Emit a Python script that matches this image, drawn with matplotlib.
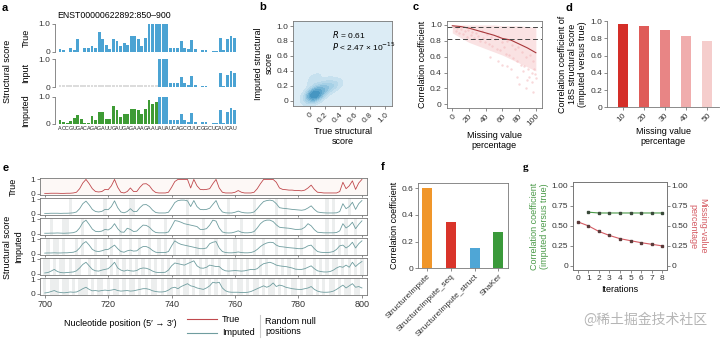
import numpy as np
import matplotlib
matplotlib.use('Agg')
import matplotlib.pyplot as plt
from matplotlib.colors import LinearSegmentedColormap
import seaborn as sns

plt.rcParams['font.family'] = ['Liberation Sans', 'DejaVu Sans', 'Noto Sans CJK SC']
plt.rcParams['font.size'] = 6
plt.rcParams['axes.linewidth'] = 0.6
plt.rcParams['axes.edgecolor'] = '#777777'
plt.rcParams['xtick.major.width'] = 0.6
plt.rcParams['ytick.major.width'] = 0.6
plt.rcParams['xtick.major.size'] = 2.5
plt.rcParams['ytick.major.size'] = 2.5
plt.rcParams['xtick.color'] = '#777777'
plt.rcParams['ytick.color'] = '#777777'
plt.rcParams['xtick.labelcolor'] = '#333333'
plt.rcParams['ytick.labelcolor'] = '#333333'
plt.rcParams['xtick.labelsize'] = 6
plt.rcParams['ytick.labelsize'] = 6

# ---------------- data ----------------
# panel a
seq_a = "ACCGUGACAGAGAUUGAUGAGAAAGAAUAUAUCAGCCUUCGGCUCAUCAU"
true_a = [0.10, 0.05, 0.00, 0.12, 0.05, 0.45, 0.00, 0.15, 0.15, 0.22,
          0.15, 0.72, 0.45, 0.25, 0.10, 0.45, 0.40, 0.20, 0.32, 0.25,
          0.58, 0.55, 0.45, 0.20, 0.50, 1.00, 1.00, 1.00, 1.00, 1.00,
          1.00, 0.15, 0.15, 0.15, 0.38, 0.15, 0.08, 0.42, 0.08, 0.00,
          0.06, 0.06, 0.00, 0.02, 0.02, 0.50, 0.05, 0.45, 0.58, 0.50]
input_a = [np.nan] * 28 + [1.00, 1.00, 1.00, 0.15, 0.15, 0.15, 0.38, 0.15, 0.08, 0.42,
                           0.08, 0.00, 0.06, 0.06, 0.00, 0.02, 0.02, 0.50, 0.05, 0.45,
                           0.58, 0.50]
imputed_a = [0.15, 0.08, 0.05, 0.12, 0.22, 0.32, 0.18, 0.05, 0.05, 0.28,
             0.15, 0.45, 0.45, 0.20, 0.18, 0.65, 0.50, 0.25, 0.35, 0.38,
             0.55, 0.55, 0.50, 0.35, 0.55, 0.88, 0.72, 0.82, 1.00, 1.00,
             1.00, 0.15, 0.15, 0.15, 0.38, 0.15, 0.08, 0.42, 0.08, 0.00,
             0.06, 0.06, 0.00, 0.02, 0.02, 0.50, 0.05, 0.45, 0.58, 0.50]

# panel b (samples read from the density blob)
b_true = [0.02, 0.05, 0.08, 0.03, 0.10, 0.00, 0.06, 0.12, 0.04, 0.15,
          0.20, 0.25, 0.30, 0.07, 0.02, 0.09, 0.18, 0.22, 0.35, 0.01,
          0.05, 0.11, 0.14, 0.04, 0.28, 0.06, 0.03, 0.08, 0.16, 0.12]
b_imp = [0.05, 0.08, 0.03, 0.12, 0.06, 0.10, 0.02, 0.15, 0.09, 0.10,
         0.18, 0.15, 0.20, 0.22, 0.04, 0.06, 0.12, 0.25, 0.20, 0.07,
         0.14, 0.05, 0.18, 0.10, 0.22, 0.30, 0.08, 0.03, 0.12, 0.16]

# panel c
c_band_x = [0, 10, 20, 30, 40, 50, 60, 70, 80, 90, 100]
c_band_hi = [1.00, 1.00, 1.00, 1.00, 1.00, 1.00, 0.99, 0.99, 0.99, 0.98, 0.97]
c_band_lo = [0.90, 0.84, 0.78, 0.74, 0.70, 0.66, 0.62, 0.57, 0.52, 0.47, 0.42]
c_trend = [0.99, 0.98, 0.96, 0.93, 0.90, 0.87, 0.83, 0.81, 0.76, 0.71, 0.65]
c_pts_x = [2, 4, 6, 8, 11, 13, 15, 17, 19, 22, 24, 26, 28, 31, 33, 35, 37, 39, 42, 44,
           46, 48, 51, 53, 55, 57, 59, 62, 64, 66, 68, 71, 73, 75, 77, 79, 82, 84, 86, 88,
           91, 93, 95, 97, 99, 45, 60, 70, 78, 85, 90, 95, 100, 55, 88, 96, 80, 92, 65, 98]
c_pts_y = [0.97, 0.93, 0.96, 0.90, 0.95, 0.88, 0.92, 0.85, 0.94, 0.87, 0.91, 0.83, 0.90, 0.86, 0.80, 0.92, 0.84, 0.78, 0.88, 0.76,
           0.85, 0.73, 0.82, 0.70, 0.86, 0.68, 0.78, 0.72, 0.64, 0.80, 0.62, 0.75, 0.58, 0.70, 0.55, 0.72, 0.50, 0.66, 0.48, 0.60,
           0.45, 0.62, 0.40, 0.55, 0.38, 0.60, 0.50, 0.45, 0.35, 0.42, 0.30, 0.28, 0.33, 0.55, 0.20, 0.15, 0.25, 0.35, 0.48, 0.45]
c_hlines = [0.97, 0.82]

# panel d
d_cats = ['10', '20', '30', '40', '50']
d_vals = [0.96, 0.94, 0.90, 0.83, 0.77]
d_colors = ['#d42e28', '#df5b58', '#e88585', '#f0adad', '#f5cdcc']

# panel e
e_pos = list(range(700, 801))
e_true = [0.02, 0.02, 0.03, 0.03, 0.03, 0.02, 0.02, 0.03, 0.03, 0.05, 0.10,
          0.35, 0.75, 1.00, 0.70, 0.35, 0.15, 0.12, 0.15, 0.30, 0.28,
          0.55, 1.00, 0.45, 0.10, 0.05, 0.15, 0.40, 0.15, 0.15, 0.45,
          0.68, 0.70, 0.55, 0.25, 0.08, 0.05, 0.05, 0.05, 0.10, 0.45,
          0.85, 1.00, 1.00, 1.00, 1.00, 0.40, 1.00, 0.55, 0.30, 0.28,
          0.30, 0.35, 0.70, 1.00, 0.40, 0.10, 0.05, 0.05, 0.05, 0.10,
          0.22, 0.10, 0.05, 0.05, 0.05, 0.10, 0.35, 0.70, 1.00, 1.00,
          1.00, 1.00, 0.80, 0.40, 0.30, 0.28, 0.25, 0.25, 0.22, 0.22,
          0.20, 0.25, 0.40, 0.60, 0.30, 0.10, 0.08, 0.05, 0.05, 0.05,
          0.05, 0.05, 0.15, 0.80, 0.35, 0.55, 0.90, 0.30, 0.75, 1.00]
e_imp1 = [0.02, 0.02, 0.03, 0.03, 0.03, 0.02, 0.03, 0.03, 0.04, 0.06, 0.12,
          0.35, 0.70, 0.88, 0.62, 0.30, 0.15, 0.12, 0.16, 0.30, 0.28,
          0.50, 0.90, 0.42, 0.12, 0.06, 0.15, 0.35, 0.15, 0.15, 0.42,
          0.62, 0.64, 0.50, 0.25, 0.08, 0.05, 0.05, 0.05, 0.10, 0.42,
          0.78, 0.92, 0.95, 0.95, 0.90, 0.50, 0.92, 0.50, 0.30, 0.28,
          0.30, 0.38, 0.65, 0.92, 0.40, 0.12, 0.06, 0.05, 0.05, 0.10,
          0.18, 0.10, 0.06, 0.05, 0.06, 0.12, 0.35, 0.62, 0.85, 0.92,
          0.95, 0.90, 0.70, 0.42, 0.38, 0.36, 0.33, 0.30, 0.28, 0.26,
          0.24, 0.28, 0.40, 0.55, 0.30, 0.12, 0.08, 0.06, 0.05, 0.05,
          0.05, 0.06, 0.15, 0.70, 0.35, 0.50, 0.80, 0.30, 0.70, 0.92]
e_imp2 = [0.03, 0.03, 0.04, 0.04, 0.05, 0.04, 0.03, 0.04, 0.05, 0.07, 0.15,
          0.40, 0.78, 0.95, 0.65, 0.32, 0.16, 0.14, 0.18, 0.30, 0.26,
          0.40, 0.70, 0.35, 0.12, 0.10, 0.38, 0.30, 0.15, 0.18, 0.40,
          0.60, 0.58, 0.45, 0.22, 0.08, 0.06, 0.06, 0.06, 0.12, 0.50,
          0.92, 0.88, 0.80, 0.70, 0.65, 0.60, 0.55, 0.50, 0.30, 0.30,
          0.35, 0.60, 0.95, 0.88, 0.40, 0.12, 0.06, 0.05, 0.06, 0.12,
          0.20, 0.10, 0.06, 0.06, 0.08, 0.15, 0.40, 0.70, 0.88, 0.95,
          0.95, 0.85, 0.62, 0.45, 0.42, 0.40, 0.38, 0.34, 0.30, 0.30,
          0.32, 0.45, 0.70, 0.55, 0.28, 0.10, 0.08, 0.06, 0.06, 0.06,
          0.06, 0.08, 0.20, 0.70, 0.40, 0.55, 0.80, 0.35, 0.65, 0.90]
e_imp3 = [0.04, 0.05, 0.05, 0.06, 0.05, 0.05, 0.06, 0.06, 0.08, 0.10, 0.18,
          0.40, 0.70, 0.85, 0.60, 0.30, 0.18, 0.15, 0.20, 0.28, 0.30,
          0.45, 0.60, 0.35, 0.15, 0.10, 0.20, 0.25, 0.18, 0.20, 0.38,
          0.50, 0.50, 0.40, 0.22, 0.10, 0.08, 0.08, 0.08, 0.15, 0.55,
          0.90, 0.75, 0.65, 0.60, 0.55, 0.50, 0.45, 0.40, 0.35, 0.35,
          0.40, 0.70, 0.80, 0.85, 0.40, 0.15, 0.08, 0.06, 0.06, 0.08,
          0.12, 0.08, 0.06, 0.06, 0.08, 0.15, 0.30, 0.50, 0.65, 0.75,
          0.80, 0.78, 0.60, 0.50, 0.48, 0.45, 0.42, 0.40, 0.38, 0.35,
          0.35, 0.42, 0.55, 0.60, 0.35, 0.15, 0.10, 0.08, 0.08, 0.10,
          0.15, 0.30, 0.55, 0.60, 0.40, 0.55, 0.80, 0.40, 0.70, 0.90]
e_imp4 = [0.05, 0.08, 0.18, 0.30, 0.15, 0.08, 0.06, 0.08, 0.10, 0.12, 0.20,
          0.40, 0.65, 0.80, 0.55, 0.30, 0.20, 0.18, 0.25, 0.30, 0.35,
          0.55, 0.80, 0.40, 0.25, 0.18, 0.25, 0.20, 0.18, 0.22, 0.35,
          0.40, 0.38, 0.30, 0.18, 0.10, 0.08, 0.08, 0.10, 0.25, 0.55,
          0.75, 0.70, 0.65, 0.60, 0.70, 0.80, 0.90, 0.55, 0.40, 0.38,
          0.45, 0.60, 0.55, 0.50, 0.50, 0.30, 0.20, 0.18, 0.20, 0.22,
          0.20, 0.18, 0.20, 0.25, 0.30, 0.28, 0.35, 0.55, 0.70, 0.75,
          0.80, 0.72, 0.60, 0.55, 0.52, 0.50, 0.45, 0.40, 0.32, 0.30,
          0.30, 0.35, 0.45, 0.55, 0.35, 0.20, 0.15, 0.12, 0.12, 0.15,
          0.25, 0.40, 0.50, 0.45, 0.60, 0.45, 0.80, 0.50, 0.70, 0.85]
e_imp5 = [0.05, 0.08, 0.15, 0.22, 0.12, 0.08, 0.06, 0.08, 0.12, 0.10, 0.12,
          0.22, 0.35, 0.45, 0.30, 0.20, 0.22, 0.18, 0.22, 0.25, 0.22,
          0.25, 0.30, 0.22, 0.18, 0.20, 0.22, 0.18, 0.20, 0.25, 0.30,
          0.35, 0.35, 0.30, 0.20, 0.15, 0.12, 0.12, 0.15, 0.25, 0.40,
          0.45, 0.35, 0.50, 0.60, 0.70, 0.55, 0.50, 0.40, 0.35, 0.30,
          0.40, 0.55, 0.80, 0.75, 0.80, 0.40, 0.20, 0.12, 0.10, 0.10,
          0.10, 0.08, 0.08, 0.10, 0.15, 0.25, 0.35, 0.45, 0.55, 0.45,
          0.55, 0.75, 0.50, 0.60, 0.55, 0.45, 0.40, 0.35, 0.32, 0.30,
          0.30, 0.35, 0.40, 0.50, 0.30, 0.18, 0.12, 0.10, 0.10, 0.12,
          0.18, 0.30, 0.45, 0.60, 0.40, 0.55, 0.70, 0.45, 0.50, 0.40]
e_null1 = [708, 719, 727, 728, 745, 758, 766, 773, 776, 789, 791, 796]
e_null2 = [702, 706, 707, 712, 719, 724, 727, 733, 738, 745, 750, 757, 762, 766, 773,
           776, 781, 789, 791, 795, 798]
e_null3 = [701, 703, 704, 706, 710, 712, 716, 719, 721, 724, 727, 730, 733, 736, 738,
           741, 745, 748, 750, 754, 757, 760, 762, 766, 769, 773, 776, 779, 781, 785,
           789, 791, 793, 795, 798]
e_null4 = [700, 701, 703, 705, 706, 708, 710, 711, 714, 716, 718, 719, 721, 723, 725,
           727, 729, 731, 733, 735, 737, 739, 742, 744, 746, 749, 751, 753, 755, 758,
           760, 762, 764, 766, 768, 770, 773, 775, 777, 779, 782, 785, 787, 789, 791,
           792, 794, 796, 798, 800]
e_null5 = [700, 702, 703, 704, 706, 707, 709, 711, 712, 713, 715, 717, 718, 720, 722,
           723, 725, 727, 728, 730, 732, 734, 735, 737, 739, 740, 742, 744, 745, 747,
           749, 750, 752, 754, 756, 757, 759, 761, 762, 764, 766, 767, 769, 771, 772,
           774, 776, 778, 779, 781, 783, 784, 786, 788, 790, 791, 793, 795, 796, 798, 799]

# panel f
f_methods = ['StructureImpute', 'StructureImpute_seq', 'StructureImpute_struct', 'ShaKer']
f_vals = [0.60, 0.35, 0.15, 0.27]
f_colors = ['#f0962a', '#d9342a', '#4fa6d6', '#3b9a3b']

# panel g
g_iter_corr = [1, 2, 3, 4, 5, 6, 7, 8]
g_corr = [0.67, 0.66, 0.66, 0.66, 0.66, 0.66, 0.66, 0.66]
g_iter_miss = [0, 1, 2, 3, 4, 5, 6, 7, 8]
g_miss = [0.55, 0.50, 0.43, 0.38, 0.34, 0.315, 0.29, 0.27, 0.25]

# ---------------- figure ----------------
W, H = 720, 340
fig = plt.figure(figsize=(7.2, 3.4), dpi=100)


def ax_at(x0, y0, x1, y1, **kw):
    return fig.add_axes([x0 / W, 1 - y1 / H, (x1 - x0) / W, (y1 - y0) / H], **kw)


def ftext(x, y, s, **kw):
    return fig.text(x / W, 1 - y / H, s, **kw)


def plabel(x, y, s, serif=False):
    kw = dict(fontsize=8, fontweight='bold', va='center', ha='left')
    if serif:
        kw['family'] = ['Liberation Serif', 'DejaVu Serif']
    ftext(x, y, s, **kw)


BLUE = '#4ba3d3'
GREEN = '#3e9b35'

# ---- panel a ----
plabel(2, 8, 'a')
ftext(57, 15, 'ENST00000622892:850\u2013900', fontsize=6.3, va='center', ha='left')
rows_a = [(24, 51.7, 'True'), (59.3, 87.3, 'Input'), (96.7, 124, 'Imputed')]
xs_a = np.arange(len(true_a))
for k, (y0, y1, name) in enumerate(rows_a):
    ax = ax_at(55, y0, 237, y1)
    for s in ['top', 'right', 'bottom']:
        ax.spines[s].set_visible(False)
    if k == 0:
        ax.bar(xs_a, true_a, width=0.8, color=BLUE, lw=0)
    elif k == 1:
        vals = np.array(input_a, dtype=float)
        miss = np.isnan(vals)
        ax.bar(xs_a[~miss], vals[~miss], width=0.8, color=BLUE, lw=0)
        ax.bar(xs_a[miss], [0.07] * int(miss.sum()), width=0.8, color='#dcdcdc', lw=0)
    else:
        vals = np.array(imputed_a)
        miss = np.isnan(np.array(input_a, dtype=float))
        ax.bar(xs_a[miss], vals[miss], width=0.8, color=GREEN, lw=0)
        ax.bar(xs_a[~miss], vals[~miss], width=0.8, color=BLUE, lw=0)
        for i, ch in enumerate(seq_a):
            ax.text(i, -0.06, ch, fontsize=3.9, ha='center', va='top', clip_on=False,
                    color='#222222')
    ax.set_xlim(-1.4, 49.7)
    ax.set_ylim(0, 1.0)
    ax.set_xticks([])
    ax.set_yticks([0, 1.0])
    ax.set_yticklabels(['0', '1.0'])
    ax.tick_params(axis='y', length=2, pad=1.5)
    ftext(26, (y0 + y1) / 2, name, rotation=90, ha='center', va='center', fontsize=6.5)
ftext(8, 71, 'Structural score', rotation=90, ha='center', va='center', fontsize=6.5)

# ---- panel b ----
plabel(259, 7, 'b')
axb = ax_at(293.3, 20.7, 392.3, 106)
axb.set_facecolor('#dcecf5')
cmap_b = LinearSegmentedColormap.from_list('bb', ['#cfe5f1', '#a6d0e6', '#6db0d3', '#3b8fbd'])
sns.kdeplot(x=b_true, y=b_imp, fill=True, cmap=cmap_b, levels=8, thresh=0.04,
            bw_adjust=1.25, ax=axb)
axb.set_xlim(-0.22, 1.10)
axb.set_ylim(-0.071, 1.071)
axb.set_xticks([0, 0.2, 0.4, 0.6, 0.8, 1.0])
axb.set_xticklabels(['0', '0.2', '0.4', '0.6', '0.8', '1.0'], rotation=45, ha='right',
                    rotation_mode='anchor')
axb.set_yticks([0, 0.2, 0.4, 0.6, 0.8, 1.0])
axb.set_yticklabels(['0', '0.2', '0.4', '0.6', '0.8', '1.0'])
axb.tick_params(length=2, pad=1.5)
axb.set_xlabel('True structural\nscore', fontsize=6.5, labelpad=2)
axb.set_ylabel('Imputed structural\nscore', fontsize=6.5, labelpad=2)
axb.text(0.29, 0.88, '$R$ = 0.61', fontsize=6, va='center')
axb.text(0.29, 0.72, '$P$ < 2.47 \u00d7 10$^{-15}$', fontsize=6, va='center')

# ---- panel c ----
plabel(413, 7, 'c')
axc = ax_at(446.7, 21, 541.7, 108)
axc.fill_between(c_band_x, c_band_lo, c_band_hi, color='#f7cfd1', alpha=0.6, lw=0)
axc.scatter(c_pts_x, c_pts_y, s=3, color='#f4b9bc', alpha=0.55, lw=0)
axc.plot(c_band_x, c_trend, color='#a8373a', lw=0.8)
for hv in c_hlines:
    axc.axhline(hv, color='#444444', lw=0.7, ls=(0, (5, 3)))
axc.set_xlim(-6.7, 107)
axc.set_ylim(-0.047, 1.05)
axc.set_xticks([0, 20, 40, 60, 80, 100])
axc.set_xticklabels(['0', '20', '40', '60', '80', '100'], rotation=45, ha='right',
                    rotation_mode='anchor')
axc.set_yticks([0, 0.2, 0.4, 0.6, 0.8, 1.0])
axc.set_yticklabels(['0', '0.2', '0.4', '0.6', '0.8', '1.0'])
axc.tick_params(length=2, pad=1.5)
axc.set_xlabel('Missing value\npercentage', fontsize=6.5, labelpad=2)
axc.set_ylabel('Correlation coefficient', fontsize=6.5, labelpad=2)

# ---- panel d ----
plabel(566, 8, 'd')
axd = ax_at(607, 21, 719, 107.3)
axd.bar(range(len(d_vals)), d_vals, width=0.48, color=d_colors, lw=0)
axd.set_xlim(-0.75, 4.55)
axd.set_ylim(0, 1.0)
for s in ['top', 'right']:
    axd.spines[s].set_visible(False)
axd.set_xticks(range(len(d_cats)))
axd.set_xticklabels(d_cats, rotation=45, ha='right', rotation_mode='anchor')
axd.set_yticks([0, 0.2, 0.4, 0.6, 0.8, 1.0])
axd.set_yticklabels(['0', '0.2', '0.4', '0.6', '0.8', '1.0'])
axd.tick_params(length=2, pad=1.5)
axd.set_xlabel('Missing value\npercentage', fontsize=6.5, labelpad=2)
axd.set_ylabel('Correlation coefficient of\n18S structural score\n(imputed versus true)',
               fontsize=6.5, labelpad=2)

# ---- panel e ----
plabel(3, 168, 'e')
e_rows = [(e_true, None), (e_imp1, e_null1), (e_imp2, e_null2), (e_imp3, e_null3),
          (e_imp4, e_null4), (e_imp5, e_null5)]
TRUE_C = '#c0494d'
IMP_C = '#6f9d9f'
for k, (vals, nulls) in enumerate(e_rows):
    y0 = 177.7 + 20 * k
    ax = ax_at(40, y0, 367, y0 + 17.4)
    if nulls is None:
        ax.set_facecolor('#fdf8f6')
        ax.plot(e_pos, vals, color=TRUE_C, lw=0.6)
    else:
        for p in nulls:
            ax.axvspan(p - 0.5, p + 0.5, color='#eceeee', lw=0)
        ax.plot(e_pos, vals, color=IMP_C, lw=0.6)
    ax.set_xlim(698.5, 801.6)
    ax.set_ylim(-0.1, 1.12)
    ax.set_yticks([0, 1])
    ax.set_yticklabels(['0', '1'])
    ax.tick_params(length=2, pad=1.5)
    ax.set_xticks([700, 720, 740, 760, 780, 800])
    if k < 5:
        ax.set_xticklabels([])
        ax.tick_params(axis='x', length=1.5)
    else:
        ax.tick_params(axis='x', labelsize=6.5)
ftext(120, 323, 'Nucleotide position (5\u2032 \u2192 3\u2032)', ha='center', va='center',
      fontsize=6.5)
ftext(13, 186.4, 'True', rotation=90, ha='center', va='center', fontsize=6.5)
ftext(19, 247, 'Imputed', rotation=90, ha='center', va='center', fontsize=6.5)
ftext(8, 247, 'Structural score', rotation=90, ha='center', va='center', fontsize=6.5)
# legend
fig.add_artist(plt.Line2D([187 / W, 217 / W], [1 - 319 / H, 1 - 319 / H], color=TRUE_C, lw=0.8))
fig.add_artist(plt.Line2D([187 / W, 217 / W], [1 - 332.5 / H, 1 - 332.5 / H], color=IMP_C, lw=0.8))
ftext(222, 319, 'True', va='center', fontsize=6.5)
ftext(222, 332.5, 'Imputed', va='center', fontsize=6.5)
fig.add_artist(plt.Line2D([260 / W, 260 / W], [1 - 315 / H, 1 - 337 / H], color='#cccccc', lw=0.8))
ftext(265, 321.5, 'Random null', va='center', fontsize=6.5)
ftext(265, 331.7, 'positions', va='center', fontsize=6.5)

# ---- panel f ----
plabel(381, 167, 'f')
axf = ax_at(418, 183.3, 508, 268.3)
axf.bar(range(len(f_vals)), f_vals, width=0.42, color=f_colors, lw=0)
axf.set_xlim(-0.375, 3.4)
axf.set_ylim(0, 0.637)
axf.set_yticks([0, 0.2, 0.4, 0.6])
axf.set_yticklabels(['0', '0.2', '0.4', '0.6'])
axf.set_xticks(range(len(f_methods)))
axf.set_xticklabels(f_methods, rotation=45, ha='right', rotation_mode='anchor')
axf.tick_params(length=2, pad=1.5)
axf.set_ylabel('Correlation coefficient', fontsize=6.5, labelpad=2)

# ---- panel g ----
plabel(523, 168, 'g', serif=True)
axg = ax_at(573.3, 182.3, 666.7, 270)
axg.plot(g_iter_corr, g_corr, color='#4a9a48', lw=0.8, marker='s', ms=1.6,
         mfc='#3a4a3a', mec='#3a4a3a')
axg2 = axg.twinx()
axg2.plot(g_iter_miss, g_miss, color='#d45a62', lw=0.8, marker='s', ms=1.6,
          mfc='#5a3a3a', mec='#5a3a3a')
for a in (axg, axg2):
    a.set_xlim(-0.42, 8.41)
    a.set_ylim(-0.05, 1.042)
    a.set_yticks([0, 0.25, 0.5, 0.75, 1.0])
    a.set_yticklabels(['0', '0.25', '0.50', '0.75', '1.00'])
    a.tick_params(length=2, pad=1.5)
axg.set_xticks(range(9))
axg.set_xlabel('Iterations', fontsize=6.5, labelpad=2)
axg.set_ylabel('Correlation coefficient\n(imputed versus true)', fontsize=6.5,
               color='#4a9a48', labelpad=2)
axg2.set_ylabel('Missing-value\npercentage', fontsize=6.5, color='#d45a62',
                rotation=270, labelpad=14)

# watermark
ftext(707, 320, '@稀土掘金技术社区', ha='right', va='center', fontsize=10,
      color='#b5b5b5', family=['Noto Sans CJK SC', 'DejaVu Sans'])

fig.savefig('out.png', dpi=100)
